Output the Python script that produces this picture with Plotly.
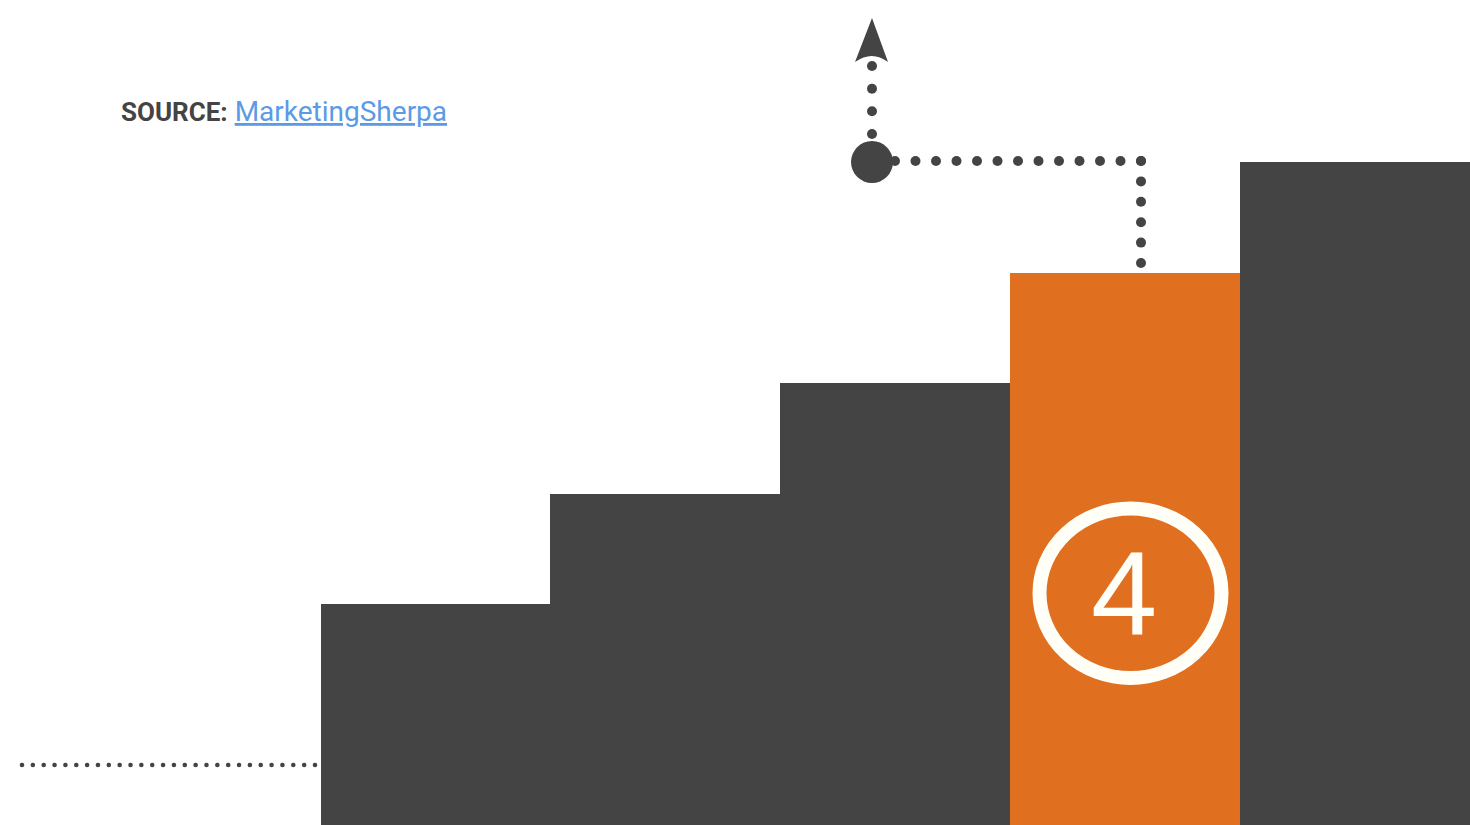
import numpy as np
import plotly.graph_objects as go

# ---- data ----
steps = [1, 2, 3, 4, 5]
step_values = [2, 3, 4, 5, 6]
highlight_step = 4
highlight_label = "4"
source_label = "SOURCE:"
source_link = "MarketingSherpa"

DARK = "#444444"
ORANGE = "#E06F1F"
WHITE = "#FFFFF8"
LINK = "#5B9BE6"

# ---- decorative path anchors (pixel space of the overlay axes) ----
path_right = (1141, 161, 263)      # x, y_top, y_bottom
path_horizontal = (895, 1141, 161)  # x_start, x_end, y
path_up = (872, 134, 66)           # x, y_start, y_end
big_dot = (872, 162)
baseline_dots = (22, 315, 765)

fig = go.Figure()

colors = [ORANGE if s == highlight_step else DARK for s in steps]
fig.add_trace(go.Bar(
    x=[s + 1 for s in steps], y=step_values, width=1.0,
    marker=dict(color=colors, line=dict(width=0)),
    hoverinfo="skip", showlegend=False,
))

# dotted connector
hx = np.linspace(path_horizontal[0], path_horizontal[1], 13)
hy = np.full_like(hx, path_horizontal[2])
vy = np.linspace(path_right[1], path_right[2], 6)
vx = np.full_like(vy, path_right[0])
uy = np.linspace(path_up[1], path_up[2], 4)
ux = np.full_like(uy, path_up[0])
fig.add_trace(go.Scatter(
    x=np.concatenate([hx, vx, ux]), y=np.concatenate([hy, vy, uy]),
    mode="markers", marker=dict(size=10, color=DARK, line=dict(width=0)),
    xaxis="x2", yaxis="y2", hoverinfo="skip", showlegend=False,
))
fig.add_trace(go.Scatter(
    x=[big_dot[0]], y=[big_dot[1]], mode="markers",
    marker=dict(size=42, color=DARK, line=dict(width=0)),
    xaxis="x2", yaxis="y2", hoverinfo="skip", showlegend=False,
))
bx = np.linspace(baseline_dots[0], baseline_dots[1], 28)
fig.add_trace(go.Scatter(
    x=bx, y=np.full_like(bx, baseline_dots[2]), mode="markers",
    marker=dict(size=4.6, color=DARK, line=dict(width=0)),
    xaxis="x2", yaxis="y2", hoverinfo="skip", showlegend=False,
))

# arrow head
fig.add_shape(type="path", xref="x2", yref="y2",
              path="M 872,18 L 855,62 Q 872,50 888,62 Z",
              fillcolor=DARK, line=dict(width=0))

# ring around highlight label
fig.add_shape(type="circle", xref="x2", yref="y2",
              x0=1039.5, x1=1221.5, y0=508.5, y1=678,
              line=dict(color=WHITE, width=14), fillcolor="rgba(0,0,0,0)")

fig.add_annotation(x=1123.5, y=593, xref="x2", yref="y2", text=highlight_label,
                   showarrow=False, font=dict(family="Liberation Sans, Arial", size=119, color=WHITE),
                   xanchor="center", yanchor="middle")

fig.add_annotation(
    x=119, y=111, xref="x2", yref="y2", xanchor="left", yanchor="middle",
    text=f"<b><span style='color:{DARK};font-size:26px'>{source_label}</span></b> "
         f"<a href='https://www.marketingsherpa.com' style='color:{LINK}'><u>{source_link}</u></a>",
    showarrow=False, font=dict(family="Roboto, Liberation Sans", size=28, color=DARK),
)

fig.update_layout(
    width=1470, height=825,
    margin=dict(l=0, r=0, t=0, b=0, pad=0),
    paper_bgcolor="white", plot_bgcolor="white",
    bargap=0,
    xaxis=dict(range=[0.1055, 6.5], visible=False, fixedrange=True),
    yaxis=dict(range=[0, 7.466], visible=False, fixedrange=True),
    xaxis2=dict(range=[0, 1470], overlaying="x", visible=False, fixedrange=True),
    yaxis2=dict(range=[825, 0], overlaying="y", visible=False, fixedrange=True),
    showlegend=False,
)

fig.write_html("out.html", config={"displayModeBar": False},
               post_script="document.body.style.margin='0';document.body.style.overflow='hidden';")
